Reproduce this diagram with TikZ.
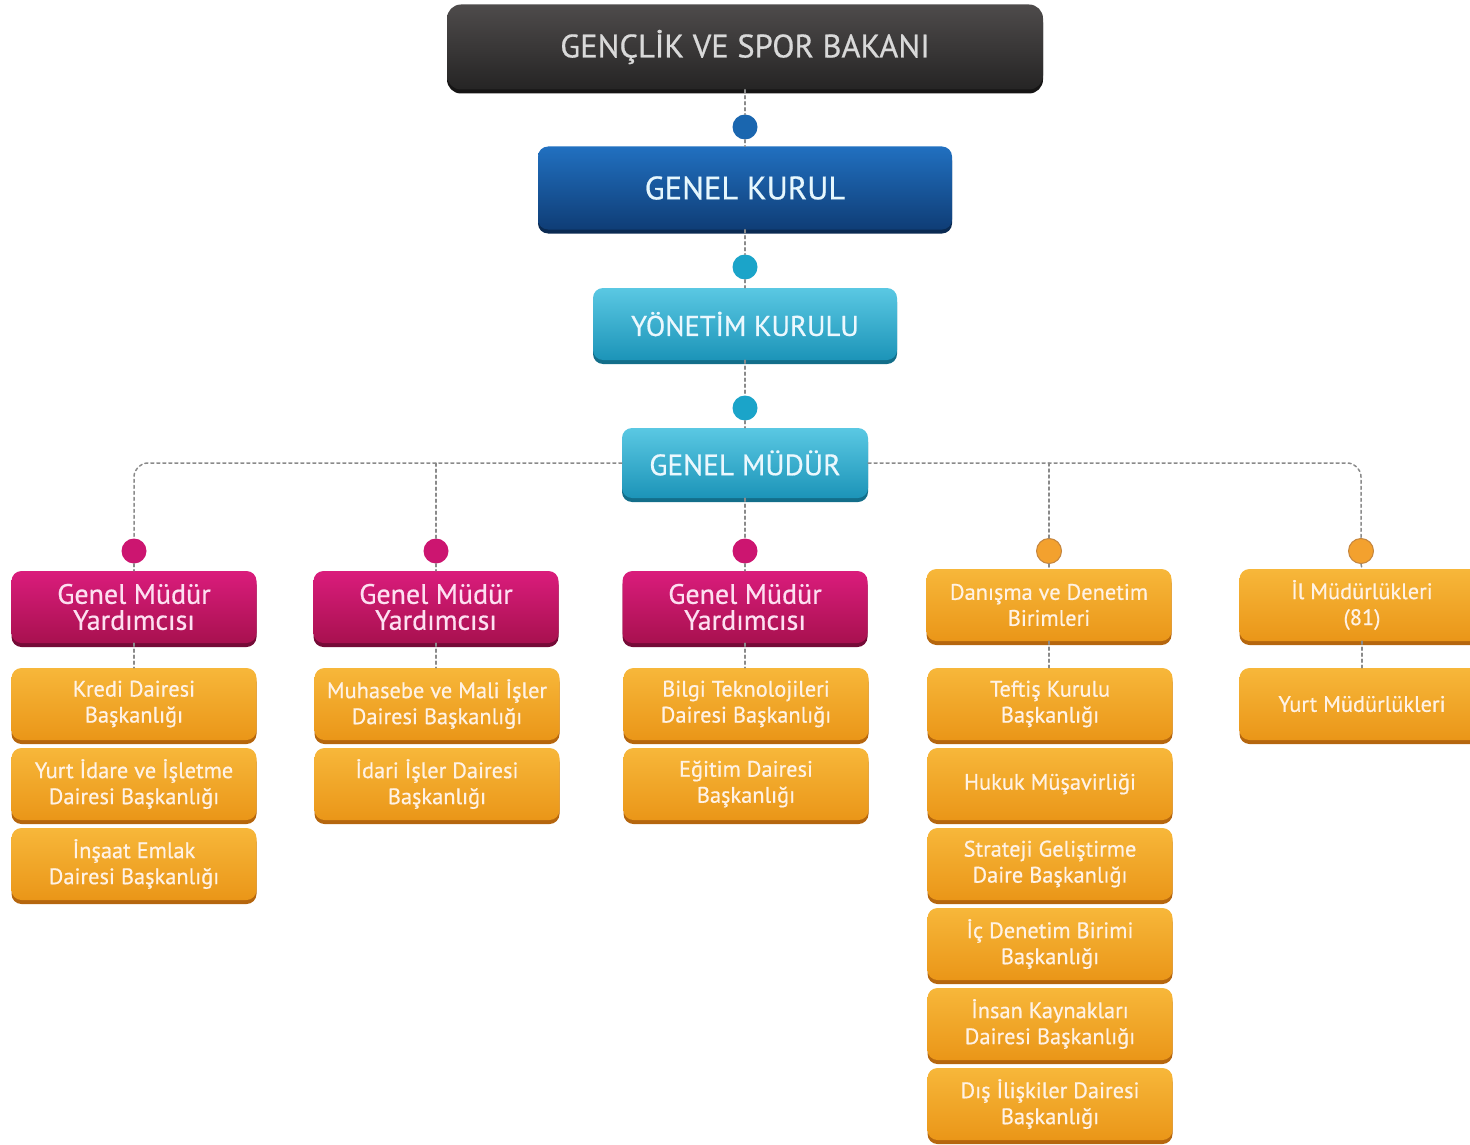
\documentclass[tikz,border=0pt]{standalone}
\usepackage{fontspec}
\setmainfont{PT Sans}
\newfontfamily\boxfont{PT Sans}[FakeBold=0.6]
\usepackage{tikz}
\usepackage{xcolor}
\usetikzlibrary{shadows,calc}

\definecolor{bakantop}{HTML}{4E4B4B}
\definecolor{bakanbot}{HTML}{252424}
\definecolor{bakanlip}{HTML}{161515}
\definecolor{kurultop}{HTML}{2170C0}
\definecolor{kurulbot}{HTML}{0F3D76}
\definecolor{kurullip}{HTML}{0A2A52}
\definecolor{yontop}{HTML}{5AC8E3}
\definecolor{yonbot}{HTML}{1C94B8}
\definecolor{yonlip}{HTML}{136E8A}
\definecolor{gmytop}{HTML}{DA1C7C}
\definecolor{gmybot}{HTML}{A8114F}
\definecolor{gmylip}{HTML}{750B37}
\definecolor{dbtop}{HTML}{F7B73A}
\definecolor{dbbot}{HTML}{EA9618}
\definecolor{dblip}{HTML}{B5660E}
\definecolor{dotblue}{HTML}{1A66AF}
\definecolor{dotcyan}{HTML}{1BA4C9}
\definecolor{dotmag}{HTML}{CC1570}
\definecolor{dotor}{HTML}{F3A12E}
\definecolor{connline}{HTML}{8A8A8A}

\begin{document}
\begin{tikzpicture}[x=1pt,y=-1pt,line cap=round,line join=round,
    box/.style={rounded corners=10pt,inner sep=0pt,align=center,minimum width=245pt,minimum height=72pt},
    bakanbox/.style={box,top color=bakantop,bottom color=bakanbot,text=white!85!black,
        general shadow={fill=bakanlip,shadow yshift=-4pt},font=\boxfont\fontsize{32.5}{36}\selectfont},
    kurulbox/.style={box,top color=kurultop,bottom color=kurulbot,text=white!90!cyan,
        general shadow={fill=kurullip,shadow yshift=-4pt},font=\boxfont\fontsize{32.5}{36}\selectfont},
    yonbox/.style={box,top color=yontop,bottom color=yonbot,text=white!92!cyan,
        general shadow={fill=yonlip,shadow yshift=-4pt},font=\boxfont\fontsize{28.5}{32}\selectfont},
    gmybox/.style={box,top color=gmytop,bottom color=gmybot,text=white!88!magenta,
        general shadow={fill=gmylip,shadow yshift=-4pt},font=\boxfont\fontsize{28}{26}\selectfont},
    dbbox/.style={box,top color=dbtop,bottom color=dbbot,text=white!90!orange,
        general shadow={fill=dblip,shadow yshift=-4pt},font=\boxfont\fontsize{22.4}{26}\selectfont},
    dot/.style={circle,minimum size=25pt,inner sep=0pt},
    conn/.style={draw=connline,line width=1.5pt,dash pattern=on 3pt off 3pt}]
\useasboundingbox (0,0) rectangle (1470,1145);

% upper chain
\node[bakanbox,rounded corners=14pt,minimum width=596pt,minimum height=85pt] (bakan) at (745,47) {GENÇLİK VE SPOR BAKANI};
\node[dot,fill=dotblue] (d0) at (745,127) {};
\node[kurulbox,minimum width=414pt,minimum height=83pt] (kurul) at (745,188) {GENEL KURUL};
\node[dot,fill=dotcyan] (d1) at (745,267) {};
\node[yonbox,minimum width=304pt,minimum height=72pt] (yonetim) at (745,324) {YÖNETİM KURULU};
\node[dot,fill=dotcyan] (d2) at (745,408) {};
\node[yonbox,minimum width=246pt,minimum height=70pt,font=\boxfont\fontsize{29.5}{32}\selectfont] (genmud) at (745,463) {GENEL MÜDÜR};

\draw[conn] (bakan.south) -- (d0.north);
\draw[conn] (d0.south) -- (kurul.north);
\draw[conn] (kurul.south) -- (d1.north);
\draw[conn] (d1.south) -- (yonetim.north);
\draw[conn] (yonetim.south) -- (d2.north);
\draw[conn] (d2.south) -- (genmud.north);

% branch dots
\node[dot,fill=dotmag] (b1) at (134,551) {};
\node[dot,fill=dotmag] (b2) at (436,551) {};
\node[dot,fill=dotmag] (b3) at (745,551) {};
\node[dot,fill=dotor,draw=dblip!80,line width=1pt] (b4) at (1049,551) {};
\node[dot,fill=dotor,draw=dblip!80,line width=1pt] (b5) at (1361,551) {};

\draw[conn,rounded corners=14pt] (genmud.west) -| (b1.north);
\draw[conn,rounded corners=14pt] (genmud.east) -| (b5.north);
\draw[conn] (b2.north) -- (b2.north |- genmud.west);
\draw[conn] (b4.north) -- (b4.north |- genmud.east);
\draw[conn] (genmud.south) -- (b3.north);

% heads
\node[gmybox] (gmy1) at (134,607) {Genel Müdür\\Yardımcısı};
\node[gmybox] (gmy2) at (436,607) {Genel Müdür\\Yardımcısı};
\node[gmybox] (gmy3) at (745,607) {Genel Müdür\\Yardımcısı};
\node[dbbox] (danisma) at (1049,605) {Danışma ve Denetim\\Birimleri};
\node[dbbox] (ilmud) at (1362,605) {İl Müdürlükleri\\(81)};

% first column
\node[dbbox] (kredi) at (134,704) {Kredi Dairesi\\Başkanlığı};
\node[dbbox] (yurtidare) at (134,784) {Yurt İdare ve İşletme\\Dairesi Başkanlığı};
\node[dbbox] (insaat) at (134,864) {İnşaat Emlak\\Dairesi Başkanlığı};
% second column
\node[dbbox] (muhasebe) at (437,704) {Muhasebe ve Mali İşler\\Dairesi Başkanlığı};
\node[dbbox] (idari) at (437,784) {İdari İşler Dairesi\\Başkanlığı};
% third column
\node[dbbox] (bilgi) at (746,704) {Bilgi Teknolojileri\\Dairesi Başkanlığı};
\node[dbbox] (egitim) at (746,784) {Eğitim Dairesi\\Başkanlığı};
% fourth column
\node[dbbox] (teftis) at (1050,704) {Teftiş Kurulu\\Başkanlığı};
\node[dbbox] (hukuk) at (1050,784) {Hukuk Müşavirliği};
\node[dbbox] (strateji) at (1050,864) {Strateji Geliştirme\\Daire Başkanlığı};
\node[dbbox] (icdenetim) at (1050,944) {İç Denetim Birimi\\Başkanlığı};
\node[dbbox] (insan) at (1050,1024) {İnsan Kaynakları\\Dairesi Başkanlığı};
\node[dbbox] (dis) at (1050,1104) {Dış İlişkiler Dairesi\\Başkanlığı};
% fifth column
\node[dbbox] (yurtmud) at (1362,704) {Yurt Müdürlükleri};

\draw[conn] (b1.south) -- (gmy1.north);
\draw[conn] (b2.south) -- (gmy2.north);
\draw[conn] (b3.south) -- (gmy3.north);
\draw[conn] (b4.south) -- (danisma.north);
\draw[conn] (b5.south) -- (ilmud.north);
\draw[conn] (gmy1.south) -- (kredi.north);
\draw[conn] (gmy2.south) -- (gmy2.south |- muhasebe.north);
\draw[conn] (gmy3.south) -- (gmy3.south |- bilgi.north);
\draw[conn] (danisma.south) -- (danisma.south |- teftis.north);
\draw[conn] (ilmud.south) -- (yurtmud.north);
\end{tikzpicture}
\end{document}
